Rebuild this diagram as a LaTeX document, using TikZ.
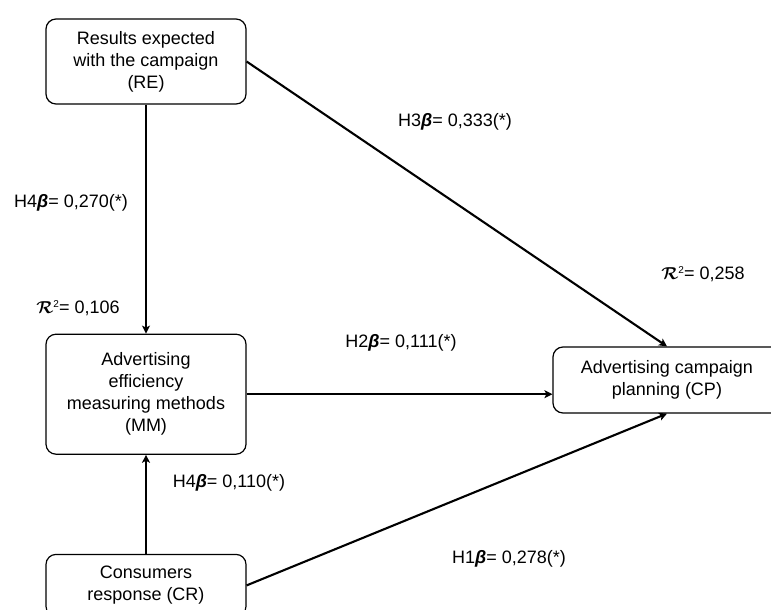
\documentclass[tikz,border=0pt]{standalone}
\usepackage{amsmath,amssymb}
\usepackage{fontspec}
\setmainfont{Liberation Sans}
\usepackage{tikz}
\usetikzlibrary{arrows.meta,positioning,calc}

\newcommand{\hbeta}{{\bfseries\itshape β}}
\newcommand{\rsq}{$\boldsymbol{\mathcal{R}}$\raisebox{6pt}{\fontsize{10pt}{10pt}\selectfont 2}}

\begin{document}
\begin{tikzpicture}[
  x=1pt,y=-1pt,
  box/.style={rectangle,rounded corners=10pt,draw=black,line width=1.2pt,
    minimum width=200pt,align=center,inner sep=3pt,
    font=\fontsize{18pt}{22pt}\selectfont},
  arr/.style={-{Stealth[length=8pt,width=8pt,inset=2pt]},line width=2.1pt},
  coef/.style={font=\fontsize{18pt}{22pt}\selectfont,inner sep=0pt},
]
  \clip (0,0) rectangle (771,610);
  \node[box,minimum height=85pt] (re) at (146,61.5) {Results expected\\with the campaign\\(RE)};
  \node[box,minimum height=120pt,below=229pt of re] (mm) {Advertising\\efficiency\\measuring methods\\(MM)};
  \node[box,minimum height=62pt,below=99pt of mm] (cr) {Consumers\\response (CR)};
  \node[box,minimum height=66pt,minimum width=228pt] (cp) at (667,380) {Advertising campaign\\planning (CP)};
  \draw[arr] (re) -- (mm);
  \draw[arr] (re.east) -- (cp.north);
  \draw[arr] (mm.east) -- (mm.east -| cp.west);
  \draw[arr] (cr) -- (mm);
  \draw[arr] (cr.east) -- (cp.south);
  % path coefficients
  \node[coef] (h3) at (455,122) {H3\hbeta= 0,333(*)};
  \node[coef] (h4a) at (71,203) {H4\hbeta= 0,270(*)};
  \node[coef] (r2mm) at (78,308) {\rsq= 0,106};
  \node[coef] (r2cp) at (703,274) {\rsq= 0,258};
  \node[coef] (h2) at (401,343) {H2\hbeta= 0,111(*)};
  \node[coef] (h4b) at (229,483) {H4\hbeta= 0,110(*)};
  \node[coef] (h1) at (509,559) {H1\hbeta= 0,278(*)};
\end{tikzpicture}
\end{document}
